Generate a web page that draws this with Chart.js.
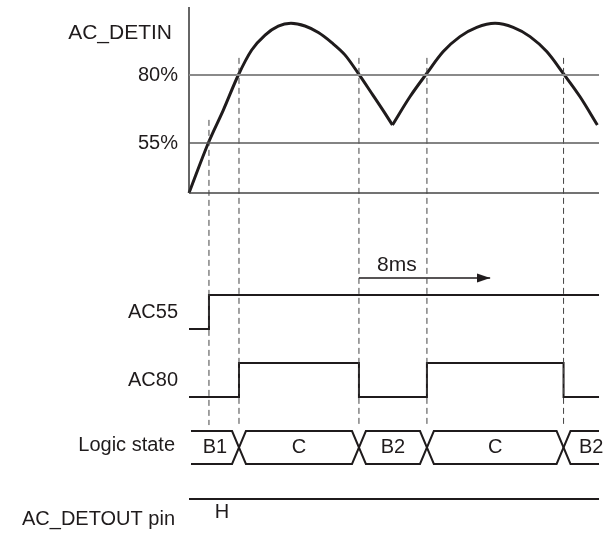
<!DOCTYPE html>
<html>
<head>
<meta charset="utf-8">
<title>AC_DETIN timing</title>
<script src="https://cdn.jsdelivr.net/npm/chart.js@4.4.0/dist/chart.umd.min.js"></script>
<style>
  body { margin: 0; background: #fff; }
  canvas { display: block; }
</style>
</head>
<body>
<canvas id="canvas" width="605" height="537"></canvas>
<script>
// AC_DETIN waveform: time in ms, level in %
var riseTime   = [0, 1.17, 2.08, 2.99, 3.80, 4.61, 5.41, 6.18, 7.03, 7.84, 8.65, 9.45, 10.26, 11.07, 11.88, 12.33];
var riseLevel  = [36.6, 55, 67.1, 80, 89.2, 94.7, 98.0, 99.0, 98.0, 95.6, 91.9, 87.4, 80.6, 73.3, 65.9, 61.6];
var nextTime   = [12.33, 13.39, 14.41, 15.41, 16.42, 17.44, 18.55, 19.65, 20.67, 21.68, 22.68, 23.70, 24.75];
var nextLevel  = [61.6, 72.0, 80.6, 88.6, 94.1, 97.5, 99.0, 97.5, 94.1, 88.6, 80.6, 72.0, 61.6];

var thresholds = [80, 55];
var thresholdLabels = ['80%', '55%'];
var baseLevel = 36.6;
var axisTop = 105;

// comparator edges (ms)
var edge55 = 1.21;
var edges80 = [3.03, 10.30, 14.42, 22.70];
var ac55Levels = [0, 1];
var ac80Levels = [0, 1, 0, 1, 0];
var states = ['B1', 'C', 'B2', 'C', 'B2'];
var detoutLevel = 1;
var detoutText = 'H';
var startTime = 0;
var endTime = 24.85;
var busStart = 0.12;

// 8ms marker
var markStart = 10.30;
var markSpan = 8;
var markText = '8ms';

// ---- layout (pixel placement of each lane) ----
var W = 605, H = 537;
var x0px = 189, pxPerMs = 16.5;
function range(vA, pxA, vB, pxB) {
  var k = (pxA - pxB) / (vB - vA);
  var max = vB + pxB / k;
  return { min: max - H / k, max: max };
}
var xr = { min: -x0px / pxPerMs, max: (W - x0px) / pxPerMs };
var acR = range(55, 143, 80, 75);
var ac55R = range(0, 329, 1, 295);
var ac80R = range(0, 397, 1, 363);
var busR = range(0, 464, 1, 431);
var outR = range(0, 533, 1, 499);

var ink = '#1f1b1c';
var font = '"Liberation Sans", Arial, Helvetica, sans-serif';

function pts(xs, ys) {
  return xs.map(function (x, i) { return { x: x, y: ys[i] }; });
}
function stepPts(times, levels) {
  var p = times.map(function (t, i) { return { x: t, y: levels[i] }; });
  p.push({ x: endTime, y: levels[levels.length - 1] });
  return p;
}

var datasets = [];

// reference lines of the top panel
datasets.push({ data: [{ x: startTime, y: 80 }, { x: endTime, y: 80 }], yAxisID: 'yAC', borderColor: '#8a8a8a', borderWidth: 2 });
datasets.push({ data: [{ x: startTime, y: 55 }, { x: endTime, y: 55 }], yAxisID: 'yAC', borderColor: '#5a5a5a', borderWidth: 1.5 });
datasets.push({ data: [{ x: startTime, y: baseLevel }, { x: endTime, y: baseLevel }], yAxisID: 'yAC', borderColor: '#444', borderWidth: 1.5 });
datasets.push({ data: [{ x: startTime, y: baseLevel }, { x: startTime, y: axisTop }], yAxisID: 'yAC', borderColor: '#333', borderWidth: 1.5 });

// dashed guides at each comparator edge
var guideBottom = -48.7;
datasets.push({ data: [{ x: edge55, y: 63.5 }, { x: edge55, y: guideBottom }], yAxisID: 'yAC', borderColor: '#444', borderWidth: 1, borderDash: [6, 4] });
edges80.forEach(function (e) {
  datasets.push({ data: [{ x: e, y: 86.3 }, { x: e, y: guideBottom }], yAxisID: 'yAC', borderColor: '#444', borderWidth: 1, borderDash: [6, 4] });
});

// AC_DETIN waveform (two halves, sharp valley between)
datasets.push({ data: pts(riseTime, riseLevel), yAxisID: 'yAC', borderColor: ink, borderWidth: 3, cubicInterpolationMode: 'monotone', borderJoinStyle: 'round' });
datasets.push({ data: pts(nextTime, nextLevel), yAxisID: 'yAC', borderColor: ink, borderWidth: 3, cubicInterpolationMode: 'monotone', borderJoinStyle: 'round' });

// AC55 / AC80 comparator outputs
datasets.push({ data: stepPts([startTime, edge55], ac55Levels), yAxisID: 'yAC55', borderColor: ink, borderWidth: 2, stepped: true });
datasets.push({ data: stepPts([startTime].concat(edges80), ac80Levels), yAxisID: 'yAC80', borderColor: ink, borderWidth: 2, stepped: true });

// logic state bus: two lines crossing at each edge
var half = 0.42;
var busA = [{ x: busStart, y: 1 }], busB = [{ x: busStart, y: 0 }];
var lvl = 1;
edges80.forEach(function (e) {
  busA.push({ x: e - half, y: lvl }, { x: e + half, y: 1 - lvl });
  busB.push({ x: e - half, y: 1 - lvl }, { x: e + half, y: lvl });
  lvl = 1 - lvl;
});
busA.push({ x: endTime, y: lvl });
busB.push({ x: endTime, y: 1 - lvl });
datasets.push({ data: busA, yAxisID: 'yBus', borderColor: ink, borderWidth: 2 });
datasets.push({ data: busB, yAxisID: 'yBus', borderColor: ink, borderWidth: 2 });

// AC_DETOUT pin
datasets.push({ data: [{ x: startTime, y: detoutLevel }, { x: endTime, y: detoutLevel }], yAxisID: 'yOut', borderColor: ink, borderWidth: 2 });

// 8ms arrow
var head = document.createElement('canvas');
head.width = 26; head.height = 10;
var hc = head.getContext('2d');
hc.fillStyle = ink;
hc.beginPath(); hc.moveTo(0, 0.5); hc.lineTo(13, 5); hc.lineTo(0, 9.5); hc.closePath(); hc.fill();
datasets.push({
  data: [{ x: markStart, y: 1.5 }, { x: markStart + markSpan - 0.05, y: 1.5 }],
  yAxisID: 'yAC55', borderColor: ink, borderWidth: 1.5,
  pointStyle: head, pointRadius: [0, 6]
});

function scaleOpt(r) {
  return { type: 'linear', display: false, min: r.min, max: r.max };
}

var textPlugin = {
  id: 'labels',
  afterDatasetsDraw: function (chart) {
    var c = chart.ctx, s = chart.scales;
    var xp = function (t) { return s.x.getPixelForValue(t); };
    c.save();
    c.fillStyle = ink;
    c.textBaseline = 'middle';
    c.textAlign = 'right';
    var right = xp(startTime) - 11;
    c.font = '21px ' + font;
    c.fillText('AC_DETIN', right - 6, s.yAC.getPixelForValue(95.5));
    c.font = '20px ' + font;
    thresholds.forEach(function (v, i) {
      c.fillText(thresholdLabels[i], right, s.yAC.getPixelForValue(v));
    });
    c.fillText('AC55', right, s.yAC55.getPixelForValue(0.5));
    c.fillText('AC80', right, s.yAC80.getPixelForValue(0.5));
    c.fillText('Logic state', right - 3, s.yBus.getPixelForValue(0.55));
    c.fillText('AC_DETOUT pin', right - 3, s.yOut.getPixelForValue(0.41));

    c.textAlign = 'center';
    var bounds = [busStart].concat(edges80).concat([endTime + 1.2]);
    states.forEach(function (st, i) {
      var mid = (bounds[i] + bounds[i + 1]) / 2;
      c.fillText(st, xp(mid), s.yBus.getPixelForValue(0.5));
    });
    c.fillText(detoutText, xp(2.0), s.yOut.getPixelForValue(0.59));
    c.font = '21px ' + font;
    c.fillText(markText, xp(12.6), s.yAC55.getPixelForValue(1.88));
    c.restore();
  }
};

window.onload = function () {
  var ctx = document.getElementById('canvas').getContext('2d');
  window.myChart = new Chart(ctx, {
    type: 'line',
    data: { datasets: datasets },
    options: {
      responsive: false,
      animation: false,
      events: [],
      layout: { padding: 0, autoPadding: false },
      elements: { point: { radius: 0 }, line: { fill: false, borderCapStyle: 'butt' } },
      plugins: { legend: { display: false }, tooltip: { enabled: false }, title: { display: false } },
      scales: {
        x: scaleOpt(xr),
        yAC: scaleOpt(acR),
        yAC55: scaleOpt(ac55R),
        yAC80: scaleOpt(ac80R),
        yBus: scaleOpt(busR),
        yOut: scaleOpt(outR)
      }
    },
    plugins: [textPlugin]
  });
};
</script>
</body>
</html>
